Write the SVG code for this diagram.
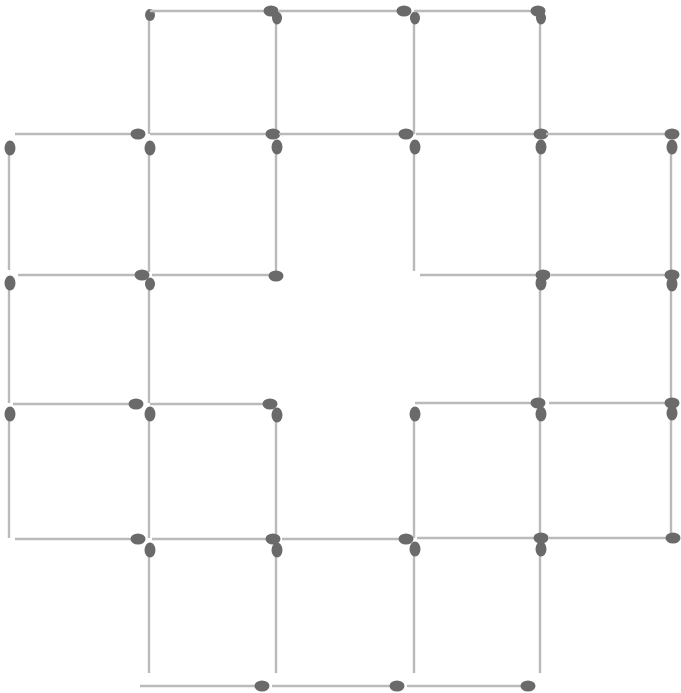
<svg xmlns="http://www.w3.org/2000/svg" width="681" height="693" viewBox="0 0 681 693">
<style>
.s{stroke:#bababa;stroke-width:2.4;fill:none;stroke-linecap:butt}
.h{fill:#6a6a6a}
</style>
<rect width="681" height="693" fill="#ffffff"/>
<g id="vertical-matches">
<g id="v1"><line class="s" x1="9" y1="143" x2="9" y2="270"/><ellipse class="h" cx="10" cy="148" rx="5.5" ry="7.5"/></g>
<g id="v2"><line class="s" x1="9" y1="278" x2="9" y2="403"/><ellipse class="h" cx="10" cy="283" rx="5.5" ry="7.5"/></g>
<g id="v3"><line class="s" x1="9" y1="409" x2="9" y2="538"/><ellipse class="h" cx="10" cy="414" rx="5.5" ry="7.5"/></g>

<g id="v4"><line class="s" x1="149" y1="9" x2="149" y2="134"/><ellipse class="h" cx="150" cy="15" rx="5" ry="6"/></g>
<g id="v5"><line class="s" x1="149" y1="143" x2="149" y2="272"/><ellipse class="h" cx="150" cy="148" rx="5.5" ry="7.5"/></g>
<g id="v6"><line class="s" x1="149" y1="279" x2="149" y2="403"/><ellipse class="h" cx="150" cy="284" rx="5" ry="6.5"/></g>
<g id="v7"><line class="s" x1="149" y1="409" x2="149" y2="538"/><ellipse class="h" cx="150" cy="414" rx="5.5" ry="7.5"/></g>
<g id="v8"><line class="s" x1="149" y1="545" x2="149" y2="673"/><ellipse class="h" cx="150" cy="550" rx="5.5" ry="7.5"/></g>

<g id="v9"><line class="s" x1="276" y1="13" x2="276" y2="134"/><ellipse class="h" cx="277" cy="18" rx="5" ry="6.5"/></g>
<g id="v10"><line class="s" x1="276" y1="142" x2="276" y2="272"/><ellipse class="h" cx="277" cy="147" rx="5.5" ry="7.5"/></g>
<g id="v11"><line class="s" x1="276" y1="410" x2="276" y2="538"/><ellipse class="h" cx="277" cy="415" rx="5.5" ry="7.5"/></g>
<g id="v12"><line class="s" x1="276" y1="544" x2="276" y2="673"/><ellipse class="h" cx="277" cy="550" rx="5.5" ry="7.5"/></g>

<g id="v13"><line class="s" x1="414" y1="13" x2="414" y2="134"/><ellipse class="h" cx="415" cy="18" rx="5" ry="6.5"/></g>
<g id="v14"><line class="s" x1="414" y1="142" x2="414" y2="271"/><ellipse class="h" cx="415" cy="147" rx="5.5" ry="7.5"/></g>
<g id="v15"><line class="s" x1="414" y1="409" x2="414" y2="538"/><ellipse class="h" cx="415" cy="414" rx="5.5" ry="7.5"/></g>
<g id="v16"><line class="s" x1="414" y1="544" x2="414" y2="673"/><ellipse class="h" cx="415" cy="549" rx="5.5" ry="7.5"/></g>

<g id="v17"><line class="s" x1="540" y1="13" x2="540" y2="134"/><ellipse class="h" cx="541" cy="18" rx="5" ry="6.5"/></g>
<g id="v18"><line class="s" x1="540" y1="142" x2="540" y2="272"/><ellipse class="h" cx="541" cy="147" rx="5.5" ry="7.5"/></g>
<g id="v19"><line class="s" x1="540" y1="278" x2="540" y2="402"/><ellipse class="h" cx="541" cy="283" rx="5.5" ry="7.5"/></g>
<g id="v20"><line class="s" x1="540" y1="409" x2="540" y2="538"/><ellipse class="h" cx="541" cy="414" rx="5.5" ry="7.5"/></g>
<g id="v21"><line class="s" x1="540" y1="544" x2="540" y2="673"/><ellipse class="h" cx="541" cy="549" rx="5.5" ry="7.5"/></g>

<g id="v22"><line class="s" x1="671" y1="142" x2="671" y2="272"/><ellipse class="h" cx="672" cy="147" rx="5.5" ry="7.5"/></g>
<g id="v23"><line class="s" x1="671" y1="279" x2="671" y2="401"/><ellipse class="h" cx="672" cy="284" rx="5.5" ry="7.5"/></g>
<g id="v24"><line class="s" x1="671" y1="408" x2="671" y2="537"/><ellipse class="h" cx="672" cy="413" rx="5.5" ry="7.5"/></g>
</g>

<g id="horizontal-matches">
<g id="h1"><line class="s" x1="150" y1="11" x2="276" y2="11"/><ellipse class="h" cx="271" cy="11" rx="7.5" ry="5.5"/></g>
<g id="h2"><line class="s" x1="279" y1="11" x2="410" y2="11"/><ellipse class="h" cx="404" cy="11" rx="7.5" ry="5.5"/></g>
<g id="h3"><line class="s" x1="414" y1="11" x2="544" y2="11"/><ellipse class="h" cx="538" cy="11" rx="7.5" ry="5.5"/></g>

<g id="h4"><line class="s" x1="15" y1="134" x2="144" y2="134"/><ellipse class="h" cx="138" cy="134" rx="7.5" ry="5.5"/></g>
<g id="h5"><line class="s" x1="150" y1="134" x2="279" y2="134"/><ellipse class="h" cx="273" cy="134" rx="7.5" ry="5.5"/></g>
<g id="h6"><line class="s" x1="279" y1="134" x2="412" y2="134"/><ellipse class="h" cx="406" cy="134" rx="7.5" ry="5.5"/></g>
<g id="h7"><line class="s" x1="416" y1="134" x2="547" y2="134"/><ellipse class="h" cx="541" cy="134" rx="7.5" ry="5.5"/></g>
<g id="h8"><line class="s" x1="546" y1="134" x2="678" y2="134"/><ellipse class="h" cx="672" cy="134" rx="7.5" ry="5.5"/></g>

<g id="h9"><line class="s" x1="18" y1="275" x2="148" y2="275"/><ellipse class="h" cx="142" cy="275" rx="7.5" ry="5.5"/></g>
<g id="h10"><line class="s" x1="152" y1="275" x2="282" y2="275"/><ellipse class="h" cx="276" cy="276" rx="7.5" ry="5.5"/></g>
<g id="h11"><line class="s" x1="420" y1="275" x2="549" y2="275"/><ellipse class="h" cx="543" cy="275" rx="7.5" ry="5.5"/></g>
<g id="h12"><line class="s" x1="551" y1="275" x2="678" y2="275"/><ellipse class="h" cx="672" cy="275" rx="7.5" ry="5.5"/></g>

<g id="h13"><line class="s" x1="13" y1="404" x2="142" y2="404"/><ellipse class="h" cx="136" cy="404" rx="7.5" ry="5.5"/></g>
<g id="h14"><line class="s" x1="150" y1="404" x2="276" y2="404"/><ellipse class="h" cx="270" cy="404" rx="7.5" ry="5.5"/></g>
<g id="h15"><line class="s" x1="415" y1="403" x2="544" y2="403"/><ellipse class="h" cx="538" cy="403" rx="7.5" ry="5.5"/></g>
<g id="h16"><line class="s" x1="549" y1="403" x2="678" y2="403"/><ellipse class="h" cx="672" cy="403" rx="7.5" ry="5.5"/></g>

<g id="h17"><line class="s" x1="15" y1="539" x2="144" y2="539"/><ellipse class="h" cx="138" cy="539" rx="7.5" ry="5.5"/></g>
<g id="h18"><line class="s" x1="152" y1="539" x2="279" y2="539"/><ellipse class="h" cx="273" cy="539" rx="7.5" ry="5.5"/></g>
<g id="h19"><line class="s" x1="282" y1="539" x2="412" y2="539"/><ellipse class="h" cx="406" cy="539" rx="7.5" ry="5.5"/></g>
<g id="h20"><line class="s" x1="417" y1="538" x2="547" y2="538"/><ellipse class="h" cx="541" cy="538" rx="7.5" ry="5.5"/></g>
<g id="h21"><line class="s" x1="548" y1="538" x2="679" y2="538"/><ellipse class="h" cx="673" cy="538" rx="7.5" ry="5.5"/></g>

<g id="h22"><line class="s" x1="140" y1="686" x2="268" y2="686"/><ellipse class="h" cx="262" cy="686" rx="7.5" ry="5.5"/></g>
<g id="h23"><line class="s" x1="272" y1="686" x2="403" y2="686"/><ellipse class="h" cx="397" cy="686" rx="7.5" ry="5.5"/></g>
<g id="h24"><line class="s" x1="407" y1="686" x2="534" y2="686"/><ellipse class="h" cx="528" cy="686" rx="7.5" ry="5.5"/></g>
</g>
</svg>
